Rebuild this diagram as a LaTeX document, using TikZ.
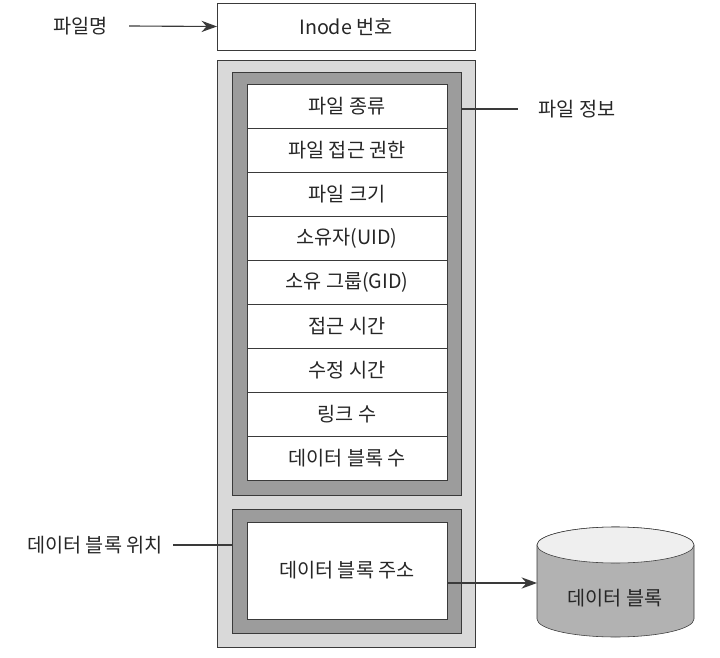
\documentclass[tikz,border=0pt]{standalone}
\usepackage{fontspec}
\setmainfont{Noto Sans CJK KR}
\usetikzlibrary{positioning, arrows.meta}

\definecolor{framelight}{HTML}{D9D9D9}
\definecolor{framedark}{HTML}{9C9C9C}
\definecolor{edgegray}{HTML}{3A3A3A}
\definecolor{diskgray}{HTML}{B2B2B2}
\definecolor{disktop}{HTML}{EFEFEF}

\tikzset{
	txt/.style={font=\fontsize{14}{16}\selectfont, text=black!85},
	cell/.style={txt, draw=edgegray, fill=white, minimum width=5cm, minimum height=1.1cm, inner sep=0pt, outer sep=0pt},
	frame/.style={draw=edgegray, inner sep=0pt, outer sep=0pt},
	tag/.style={txt, inner sep=2pt},
	conn/.style={draw=edgegray, line width=0.8pt},
	tip/.style={-{Stealth[length=11pt, width=8pt]}},
}

\begin{document}
\begin{tikzpicture}
	\useasboundingbox (0,0) rectangle (18,-16.45);

	% inode 번호
	\node[cell, minimum width=6.45cm, minimum height=1.175cm] (inode) at (8.65,-0.6625) {Inode 번호};

	% 바깥 틀과 안쪽 틀
	\node[frame, fill=framelight, minimum width=6.45cm, minimum height=14.675cm] (outer) at (8.65,-8.8375) {};
	\node[frame, fill=framedark, minimum width=5.725cm, minimum height=10.575cm] (info) at (8.6625,-7.0875) {};
	\node[frame, fill=framedark, minimum width=5.725cm, minimum height=3.1cm] (addr) at (8.6625,-14.275) {};

	% 파일 정보 칸
	\node[cell] (kind) at (8.675,-2.65) {파일 종류};
	\node[cell, below=0pt of kind] (perm) {파일 접근 권한};
	\node[cell, below=0pt of perm] (size) {파일 크기};
	\node[cell, below=0pt of size] (uid) {소유자(UID)};
	\node[cell, below=0pt of uid] (gid) {소유 그룹(GID)};
	\node[cell, below=0pt of gid] (atime) {접근 시간};
	\node[cell, below=0pt of atime] (mtime) {수정 시간};
	\node[cell, below=0pt of mtime] (links) {링크 수};
	\node[cell, below=0pt of links] (blocks) {데이터 블록 수};

	\node[cell, minimum height=2.425cm] (baddr) at (8.675,-14.2625) {데이터 블록 주소};

	% 바깥 이름표
	\node[tag] (fname) at (2.02,-0.65) {파일명};
	\node[tag] (finfo) at (14.43,-2.725) {파일 정보};
	\node[tag] (bpos) at (2.375,-13.625) {데이터 블록 위치};

	% 데이터 블록 원통
	\draw[edgegray, fill=diskgray] (13.425,-13.625) -- (13.425,-15.475) arc (180:360:1.9625 and 0.45) -- (17.35,-13.625) arc (0:180:1.9625 and 0.45) -- cycle;
	\draw[edgegray, fill=disktop] (15.3875,-13.625) ellipse (1.9625 and 0.45);
	\node[txt] (disk) at (15.375,-14.95) {데이터 블록};
	\coordinate (diskw) at (13.425,-14.575);

	\draw[conn, tip] ([xshift=4.5mm]fname.east) -- (inode.west);
	\draw[conn] (finfo.west -| info.east) -- ([xshift=-4.3mm]finfo.west);
	\draw[conn] ([xshift=1.8mm]bpos.east) -- (bpos.east -| addr.west);
	\draw[conn, tip] (baddr.east |- diskw) -- (diskw);
\end{tikzpicture}
\end{document}
